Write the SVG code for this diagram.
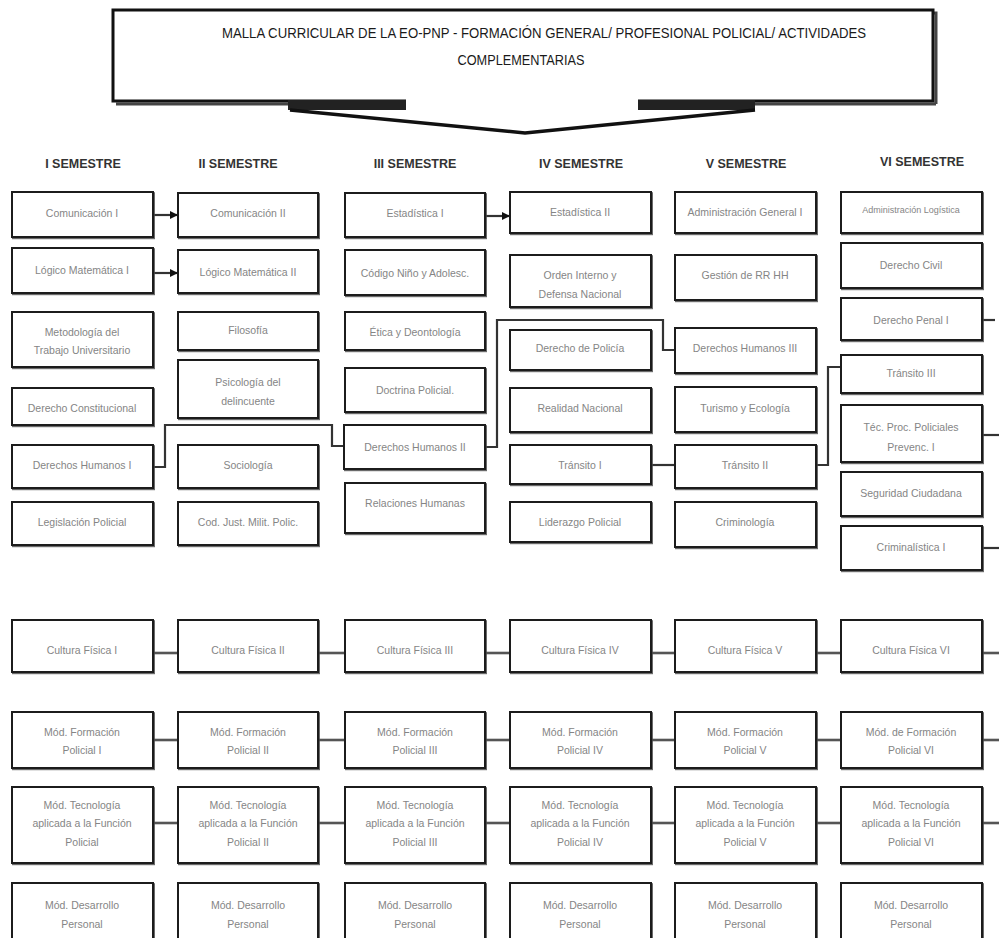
<svg xmlns="http://www.w3.org/2000/svg" width="999" height="938" viewBox="0 0 999 938">
<defs>
<style>
.b{fill:#fff;stroke:#1a1a1a;stroke-width:2;filter:url(#sh)}
.t{font-family:"Liberation Sans",Arial,sans-serif;font-size:10.5px;fill:#858585;text-anchor:middle}
.s{font-size:9px}
.h{font-family:"Liberation Sans",Arial,sans-serif;font-size:12.5px;font-weight:bold;fill:#333;text-anchor:middle}
.ti{font-family:"Liberation Sans",Arial,sans-serif;font-size:14px;fill:#1a1a1a}
.c{fill:none;stroke:#333;stroke-width:2.2}
.cb{fill:none;stroke:#555;stroke-width:2.6}
</style>
<filter id="sh" x="-5%" y="-5%" width="110%" height="115%"><feDropShadow dx="1" dy="1.2" stdDeviation="0.5" flood-color="#444" flood-opacity="0.8"/></filter>
<marker id="ar" markerWidth="8" markerHeight="8" refX="7" refY="4" orient="auto" markerUnits="userSpaceOnUse"><path d="M0,0 L8,4 L0,8 Z" fill="#111"/></marker>
</defs>
<rect width="999" height="938" fill="#fff"/>

<g id="title">
<path d="M116,13 H936 V104 M116,104 H406 M638,104 H936" fill="none" stroke="#444" stroke-width="3"/>
<path d="M406,101 H113 V10 H933 V101 H638" fill="#fff" stroke="#111" stroke-width="3"/>
<rect x="288" y="100" width="118" height="10" fill="#222"/>
<rect x="638" y="100" width="117" height="10" fill="#222"/>
<path d="M290,110 L525,133 L755,110" fill="none" stroke="#111" stroke-width="3.5"/>
<text class="ti" x="544" y="38" text-anchor="middle" textLength="644" lengthAdjust="spacingAndGlyphs">MALLA CURRICULAR DE LA EO-PNP -  FORMACIÓN GENERAL/ PROFESIONAL POLICIAL/ ACTIVIDADES</text>
<text class="ti" x="521" y="65" text-anchor="middle" textLength="127" lengthAdjust="spacingAndGlyphs">COMPLEMENTARIAS</text>
</g>

<g id="headers">
<text class="h" x="83" y="168">I SEMESTRE</text>
<text class="h" x="238" y="168">II  SEMESTRE</text>
<text class="h" x="415" y="168">III SEMESTRE</text>
<text class="h" x="581" y="168">IV SEMESTRE</text>
<text class="h" x="746" y="168">V SEMESTRE</text>
<text class="h" x="922" y="166">VI SEMESTRE</text>
</g>

<g id="connectors">
<line class="c" x1="153" y1="215" x2="177" y2="215" marker-end="url(#ar)"/>
<line class="c" x1="153" y1="273" x2="177" y2="273" marker-end="url(#ar)"/>
<line class="c" x1="485" y1="216" x2="509" y2="216" marker-end="url(#ar)"/>
<polyline class="c" points="153,467 165,467 165,425 332,425 332,446 344,446"/>
<polyline class="c" points="485,447 497,447 497,320 663,320 663,350 675,350"/>
<line class="c" x1="651" y1="465" x2="675" y2="465"/>
<polyline class="c" points="816,465 828,465 828,367 841,367"/>
<line class="c" x1="982" y1="320" x2="995" y2="320"/>
<line class="c" x1="982" y1="435" x2="999" y2="435"/>
<line class="c" x1="982" y1="548" x2="999" y2="548"/>
<line class="cb" x1="153" y1="653" x2="178" y2="653"/>
<line class="cb" x1="318" y1="653" x2="345" y2="653"/>
<line class="cb" x1="485" y1="653" x2="510" y2="653"/>
<line class="cb" x1="651" y1="653" x2="675" y2="653"/>
<line class="cb" x1="816" y1="653" x2="841" y2="653"/>
<line class="cb" x1="982" y1="653" x2="999" y2="653"/>
<line class="cb" x1="153" y1="740" x2="178" y2="740"/>
<line class="cb" x1="318" y1="740" x2="345" y2="740"/>
<line class="cb" x1="485" y1="740" x2="510" y2="740"/>
<line class="cb" x1="651" y1="740" x2="675" y2="740"/>
<line class="cb" x1="816" y1="740" x2="841" y2="740"/>
<line class="cb" x1="982" y1="740" x2="999" y2="740"/>
<line class="cb" x1="153" y1="823" x2="178" y2="823"/>
<line class="cb" x1="318" y1="823" x2="345" y2="823"/>
<line class="cb" x1="485" y1="823" x2="510" y2="823"/>
<line class="cb" x1="651" y1="823" x2="675" y2="823"/>
<line class="cb" x1="816" y1="823" x2="841" y2="823"/>
<line class="cb" x1="982" y1="823" x2="999" y2="823"/>
</g>

<!-- Column I -->
<g id="com1"><rect class="b" x="12" y="192" width="141" height="45"/><text class="t" x="82" y="217">Comunicación I</text></g>
<g id="log1"><rect class="b" x="12" y="248" width="141" height="45"/><text class="t" x="82" y="274">Lógico Matemática I</text></g>
<g id="met"><rect class="b" x="12" y="312" width="141" height="55"/><text class="t" x="82" y="336">Metodología del</text><text class="t" x="82" y="354">Trabajo Universitario</text></g>
<g id="dcon"><rect class="b" x="12" y="388" width="141" height="37"/><text class="t" x="82" y="412">Derecho Constitucional</text></g>
<g id="dh1"><rect class="b" x="12" y="445" width="141" height="43"/><text class="t" x="82" y="469">Derechos Humanos I</text></g>
<g id="leg"><rect class="b" x="12" y="502" width="141" height="43"/><text class="t" x="82" y="526">Legislación Policial</text></g>

<!-- Column II -->
<g id="com2"><rect class="b" x="178" y="193" width="140" height="44"/><text class="t" x="248" y="217">Comunicación II</text></g>
<g id="log2"><rect class="b" x="178" y="250" width="140" height="43"/><text class="t" x="248" y="276">Lógico Matemática II</text></g>
<g id="fil"><rect class="b" x="178" y="312" width="140" height="38"/><text class="t" x="248" y="334">Filosofía</text></g>
<g id="psi"><rect class="b" x="178" y="360" width="140" height="58"/><text class="t" x="248" y="386">Psicología del</text><text class="t" x="248" y="405">delincuente</text></g>
<g id="soc"><rect class="b" x="178" y="445" width="140" height="43"/><text class="t" x="248" y="469">Sociología</text></g>
<g id="cod"><rect class="b" x="178" y="502" width="140" height="43"/><text class="t" x="248" y="526">Cod. Just. Milit. Polic.</text></g>

<!-- Column III -->
<g id="est1"><rect class="b" x="345" y="193" width="140" height="44"/><text class="t" x="415" y="217">Estadística I</text></g>
<g id="cna"><rect class="b" x="345" y="250" width="140" height="45"/><text class="t" x="415" y="277">Código Niño y Adolesc.</text></g>
<g id="eti"><rect class="b" x="345" y="312" width="140" height="38"/><text class="t" x="415" y="336">Ética y Deontología</text></g>
<g id="doc"><rect class="b" x="345" y="368" width="140" height="44"/><text class="t" x="415" y="394">Doctrina Policial.</text></g>
<g id="dh2"><rect class="b" x="344" y="425" width="141" height="44"/><text class="t" x="415" y="451">Derechos Humanos II</text></g>
<g id="rel"><rect class="b" x="345" y="483" width="140" height="50"/><text class="t" x="415" y="507">Relaciones Humanas</text></g>

<!-- Column IV -->
<g id="est2"><rect class="b" x="510" y="192" width="141" height="41"/><text class="t" x="580" y="216">Estadística II</text></g>
<g id="oid"><rect class="b" x="510" y="255" width="141" height="52"/><text class="t" x="580" y="279">Orden Interno y</text><text class="t" x="580" y="298">Defensa Nacional</text></g>
<g id="dpol"><rect class="b" x="510" y="330" width="141" height="40"/><text class="t" x="580" y="352">Derecho de Policía</text></g>
<g id="rn"><rect class="b" x="510" y="388" width="141" height="44"/><text class="t" x="580" y="412">Realidad Nacional</text></g>
<g id="tr1"><rect class="b" x="510" y="445" width="141" height="39"/><text class="t" x="580" y="469">Tránsito I</text></g>
<g id="lid"><rect class="b" x="510" y="502" width="141" height="40"/><text class="t" x="580" y="526">Liderazgo Policial</text></g>

<!-- Column V -->
<g id="adm1"><rect class="b" x="675" y="192" width="141" height="41"/><text class="t" x="745" y="216">Administración General I</text></g>
<g id="rrhh"><rect class="b" x="675" y="255" width="141" height="45"/><text class="t" x="745" y="279">Gestión de RR HH</text></g>
<g id="dh3"><rect class="b" x="675" y="328" width="141" height="45"/><text class="t" x="745" y="352">Derechos Humanos III</text></g>
<g id="tur"><rect class="b" x="675" y="387" width="141" height="45"/><text class="t" x="745" y="412">Turismo y Ecología</text></g>
<g id="tr2"><rect class="b" x="675" y="445" width="141" height="43"/><text class="t" x="745" y="469">Tránsito II</text></g>
<g id="crimo"><rect class="b" x="675" y="502" width="141" height="45"/><text class="t" x="745" y="526">Criminología</text></g>

<!-- Column VI -->
<g id="admlog"><rect class="b" x="841" y="192" width="141" height="41"/><text class="t s" x="911" y="213">Administración Logística</text></g>
<g id="dciv"><rect class="b" x="841" y="243" width="141" height="45"/><text class="t" x="911" y="269">Derecho Civil</text></g>
<g id="dpen"><rect class="b" x="841" y="298" width="141" height="42"/><text class="t" x="911" y="324">Derecho Penal I</text></g>
<g id="tr3"><rect class="b" x="841" y="355" width="141" height="38"/><text class="t" x="911" y="377">Tránsito III</text></g>
<g id="tec"><rect class="b" x="841" y="405" width="141" height="57"/><text class="t" x="911" y="431">Téc. Proc. Policiales</text><text class="t" x="911" y="451">Prevenc. I</text></g>
<g id="seg"><rect class="b" x="841" y="472" width="141" height="44"/><text class="t" x="911" y="497">Seguridad Ciudadana</text></g>
<g id="crima"><rect class="b" x="841" y="526" width="141" height="44"/><text class="t" x="911" y="551">Criminalística I</text></g>

<!-- Cultura Física -->
<g id="cf1"><rect class="b" x="12" y="620" width="141" height="52"/><text class="t" x="82" y="654">Cultura Física I</text></g>
<g id="cf2"><rect class="b" x="178" y="620" width="140" height="52"/><text class="t" x="248" y="654">Cultura Física II</text></g>
<g id="cf3"><rect class="b" x="345" y="620" width="140" height="52"/><text class="t" x="415" y="654">Cultura Física III</text></g>
<g id="cf4"><rect class="b" x="510" y="620" width="141" height="52"/><text class="t" x="580" y="654">Cultura Física IV</text></g>
<g id="cf5"><rect class="b" x="675" y="620" width="141" height="52"/><text class="t" x="745" y="654">Cultura Física V</text></g>
<g id="cf6"><rect class="b" x="841" y="620" width="141" height="52"/><text class="t" x="911" y="654">Cultura Física VI</text></g>

<!-- Módulo Formación -->
<g id="mf1"><rect class="b" x="12" y="712" width="141" height="56"/><text class="t" x="82" y="736">Mód. Formación</text><text class="t" x="82" y="754">Policial I</text></g>
<g id="mf2"><rect class="b" x="178" y="712" width="140" height="56"/><text class="t" x="248" y="736">Mód. Formación</text><text class="t" x="248" y="754">Policial II</text></g>
<g id="mf3"><rect class="b" x="345" y="712" width="140" height="56"/><text class="t" x="415" y="736">Mód. Formación</text><text class="t" x="415" y="754">Policial III</text></g>
<g id="mf4"><rect class="b" x="510" y="712" width="141" height="56"/><text class="t" x="580" y="736">Mód. Formación</text><text class="t" x="580" y="754">Policial IV</text></g>
<g id="mf5"><rect class="b" x="675" y="712" width="141" height="56"/><text class="t" x="745" y="736">Mód. Formación</text><text class="t" x="745" y="754">Policial V</text></g>
<g id="mf6"><rect class="b" x="841" y="712" width="141" height="56"/><text class="t" x="911" y="736">Mód. de Formación</text><text class="t" x="911" y="754">Policial VI</text></g>

<!-- Módulo Tecnología -->
<g id="mt1"><rect class="b" x="12" y="787" width="141" height="76"/><text class="t" x="82" y="809">Mód. Tecnología</text><text class="t" x="82" y="827">aplicada a la Función</text><text class="t" x="82" y="846">Policial</text></g>
<g id="mt2"><rect class="b" x="178" y="787" width="140" height="76"/><text class="t" x="248" y="809">Mód. Tecnología</text><text class="t" x="248" y="827">aplicada a la Función</text><text class="t" x="248" y="846">Policial II</text></g>
<g id="mt3"><rect class="b" x="345" y="787" width="140" height="76"/><text class="t" x="415" y="809">Mód. Tecnología</text><text class="t" x="415" y="827">aplicada a la Función</text><text class="t" x="415" y="846">Policial III</text></g>
<g id="mt4"><rect class="b" x="510" y="787" width="141" height="76"/><text class="t" x="580" y="809">Mód. Tecnología</text><text class="t" x="580" y="827">aplicada a la Función</text><text class="t" x="580" y="846">Policial IV</text></g>
<g id="mt5"><rect class="b" x="675" y="787" width="141" height="76"/><text class="t" x="745" y="809">Mód. Tecnología</text><text class="t" x="745" y="827">aplicada a la Función</text><text class="t" x="745" y="846">Policial V</text></g>
<g id="mt6"><rect class="b" x="841" y="787" width="141" height="76"/><text class="t" x="911" y="809">Mód. Tecnología</text><text class="t" x="911" y="827">aplicada a la Función</text><text class="t" x="911" y="846">Policial VI</text></g>

<!-- Módulo Desarrollo -->
<g id="md1"><rect class="b" x="12" y="883" width="141" height="70"/><text class="t" x="82" y="909">Mód. Desarrollo</text><text class="t" x="82" y="928">Personal</text></g>
<g id="md2"><rect class="b" x="178" y="883" width="140" height="70"/><text class="t" x="248" y="909">Mód. Desarrollo</text><text class="t" x="248" y="928">Personal</text></g>
<g id="md3"><rect class="b" x="345" y="883" width="140" height="70"/><text class="t" x="415" y="909">Mód. Desarrollo</text><text class="t" x="415" y="928">Personal</text></g>
<g id="md4"><rect class="b" x="510" y="883" width="141" height="70"/><text class="t" x="580" y="909">Mód. Desarrollo</text><text class="t" x="580" y="928">Personal</text></g>
<g id="md5"><rect class="b" x="675" y="883" width="141" height="70"/><text class="t" x="745" y="909">Mód. Desarrollo</text><text class="t" x="745" y="928">Personal</text></g>
<g id="md6"><rect class="b" x="841" y="883" width="141" height="70"/><text class="t" x="911" y="909">Mód. Desarrollo</text><text class="t" x="911" y="928">Personal</text></g>
</svg>
